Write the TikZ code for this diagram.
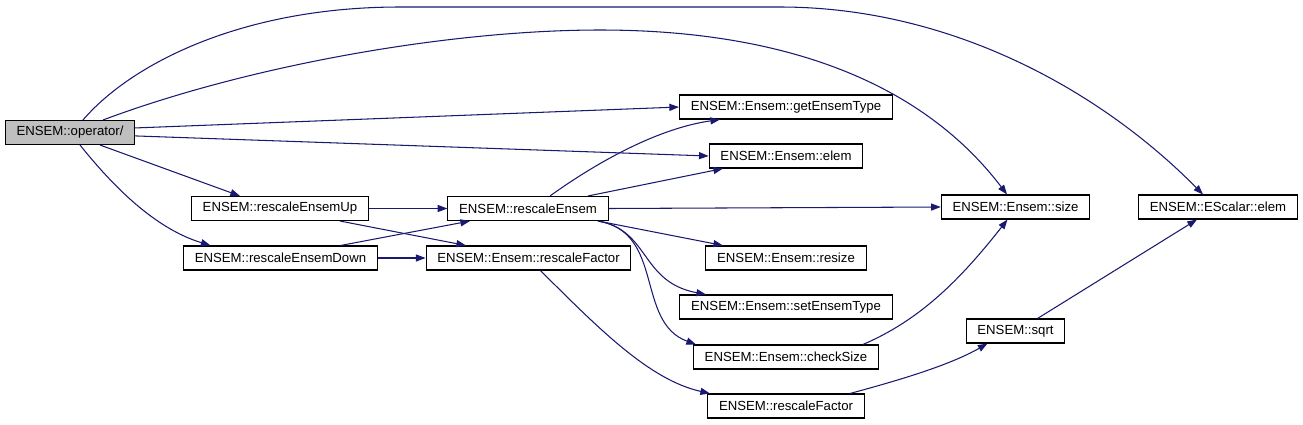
\documentclass[tikz,border=0pt]{standalone}
\usepackage{fontspec}
\setmainfont{Liberation Sans}
\usetikzlibrary{arrows.meta}
\definecolor{edgeblue}{RGB}{25,25,112}

\begin{document}
\begin{tikzpicture}[x=0.02cm,y=-0.02cm,line width=0.6pt,
  fn/.style={draw=black,fill=white,inner xsep=6.4pt,inner ysep=0pt,minimum height=0.48cm,font=\fontsize{7.5}{9}\selectfont},
  call/.style={draw=edgeblue,line width=0.6pt,-{Triangle[length=5.5pt,width=4pt]}}]
\useasboundingbox (0,0) rectangle (1303,424);

% functions
\node[fn,fill=black!25] (op) at (70,132.5) {ENSEM::operator/};
\node[fn] (up) at (280,208.5) {ENSEM::rescaleEnsemUp};
\node[fn] (down) at (280.5,258) {ENSEM::rescaleEnsemDown};
\node[fn] (re) at (528,208.5) {ENSEM::rescaleEnsem};
\node[fn] (rfE) at (528.5,258) {ENSEM::Ensem::rescaleFactor};
\node[fn] (getType) at (786,107) {ENSEM::Ensem::getEnsemType};
\node[fn] (elem) at (786,156) {ENSEM::Ensem::elem};
\node[fn] (resize) at (786,258) {ENSEM::Ensem::resize};
\node[fn] (setType) at (786,307) {ENSEM::Ensem::setEnsemType};
\node[fn] (check) at (786,357) {ENSEM::Ensem::checkSize};
\node[fn] (rf) at (786,406) {ENSEM::rescaleFactor};
\node[fn] (size) at (1015.5,207) {ENSEM::Ensem::size};
\node[fn] (sqrt) at (1015.5,331) {ENSEM::sqrt};
\node[fn] (selem) at (1218,207) {ENSEM::EScalar::elem};

% calls from operator/
\draw[call] (op.4) -- (getType.west);
\draw[call] (op.-3) -- (elem.west);
\draw[call] ([xshift=0.6cm]op.south) -- ([xshift=-0.8cm]up.north);
\draw[call] ([xshift=0.2cm]op.south) .. controls (120,195) and (160,230) .. ([xshift=-1.4cm]down.north);
\draw[call] ([xshift=0.66cm]op.north) .. controls (250,65) and (450,30) .. (600,30)
  .. controls (780,30) and (920,80) .. ([xshift=-0.17cm]size.north);
\draw[call] ([xshift=0.26cm]op.north) .. controls (130,65) and (240,7) .. (400,7) -- (780,7)
  .. controls (950,7) and (1100,90) .. ([xshift=-0.3cm]selem.north);

\draw[call] (up.east) -- (re.west);
\draw[call] ([xshift=1.2cm]up.south) -- ([xshift=-1.25cm]rfE.north);
\draw[call] ([xshift=1.2cm]down.north) -- ([xshift=-1.16cm]re.south);
\draw[call] (down.east) -- (rfE.west);

% calls from rescaleEnsem
\draw[call] ([xshift=0.44cm]re.north) .. controls (600,160) and (660,128) .. ([xshift=-1.32cm]getType.south);
\draw[call] ([xshift=1.2cm]re.north) -- ([xshift=-1.26cm]elem.south);
\draw[call] (re.east) -- (size.west);
\draw[call] ([xshift=1.4cm]re.south) -- ([xshift=-1.26cm]resize.north);
\draw[call] ([xshift=1.4cm]re.south) .. controls (650,230) and (640,282) .. ([xshift=-1.6cm]setType.north);
\draw[call] ([xshift=1.4cm]re.south) .. controls (665,232) and (635,322) .. ([xshift=-1.8cm]check.north);

\draw[call] ([xshift=1.54cm]check.north) .. controls (920,320) and (960,280) .. ([xshift=-0.16cm]size.south);
\draw[call] ([xshift=0.24cm]rfE.south) .. controls (600,330) and (650,380) .. ([xshift=-1.52cm]rf.north);
\draw[call] ([xshift=1.28cm]rf.north) .. controls (900,380) and (950,365) .. ([xshift=-0.56cm]sqrt.south);
\draw[call] ([xshift=0.44cm]sqrt.north) -- ([xshift=-0.42cm]selem.south);

\end{tikzpicture}
\end{document}
